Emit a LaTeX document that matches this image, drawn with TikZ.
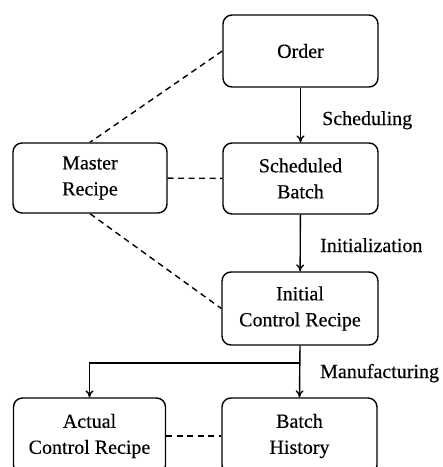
\documentclass[tikz,border=0pt]{standalone}
\usepackage{fontspec}
\setmainfont{Liberation Serif}[FakeBold=0.35]
\usetikzlibrary{arrows.meta}
\begin{document}
\begin{tikzpicture}[x=1pt,y=-1pt,
  box/.style={draw, line width=1.4pt, rounded corners=9pt, align=center,
    inner sep=0pt, font=\fontsize{20}{26}\selectfont},
  flow/.style={draw, line width=1.4pt, -{To[length=7pt,width=8pt]}},
  link/.style={draw, line width=1.4pt, dash pattern=on 6pt off 4.5pt},
  lbl/.style={font=\fontsize{20}{24}\selectfont, anchor=base west, inner sep=0pt}]
\useasboundingbox (0,0) rectangle (443,467);
\clip (0,0) rectangle (443,467);
% boxes
\node[box, minimum width=155pt, minimum height=72pt] (order) at (300.5,51) {Order};
\node[box, minimum width=155pt, minimum height=71pt] (sched) at (300.5,178.5) {Scheduled\\Batch};
\node[box, minimum width=154pt, minimum height=70pt] (master) at (90,178) {Master\\Recipe};
\node[box, minimum width=156pt, minimum height=73pt] (init) at (300,308.5) {Initial\\Control Recipe};
\node[box, minimum width=152pt, minimum height=76pt] (actual) at (89.5,436) {Actual\\Control Recipe};
\node[box, minimum width=155pt, minimum height=76pt] (hist) at (299.5,436) {Batch\\History};
% flow of the batch
\draw[flow] (order) -- (sched);
\draw[flow] (sched) -- (init);
\coordinate (split) at (300,363);
\draw[flow] (init.south) -- (hist.north);
\draw[flow] (split) -| (actual.north);
% labels on the flow
\node[lbl] (l1) at (322,125) {Scheduling};
\node[lbl] (l2) at (320,252) {Initialization};
\node[lbl] (l3) at (320,378) {Manufacturing};
% relations
\draw[link] (order.west) -- (master.north);
\draw[link] (master) -- (sched);
\draw[link] (master.south) -- (init.west);
\draw[link] (actual) -- (hist);
\end{tikzpicture}
\end{document}
